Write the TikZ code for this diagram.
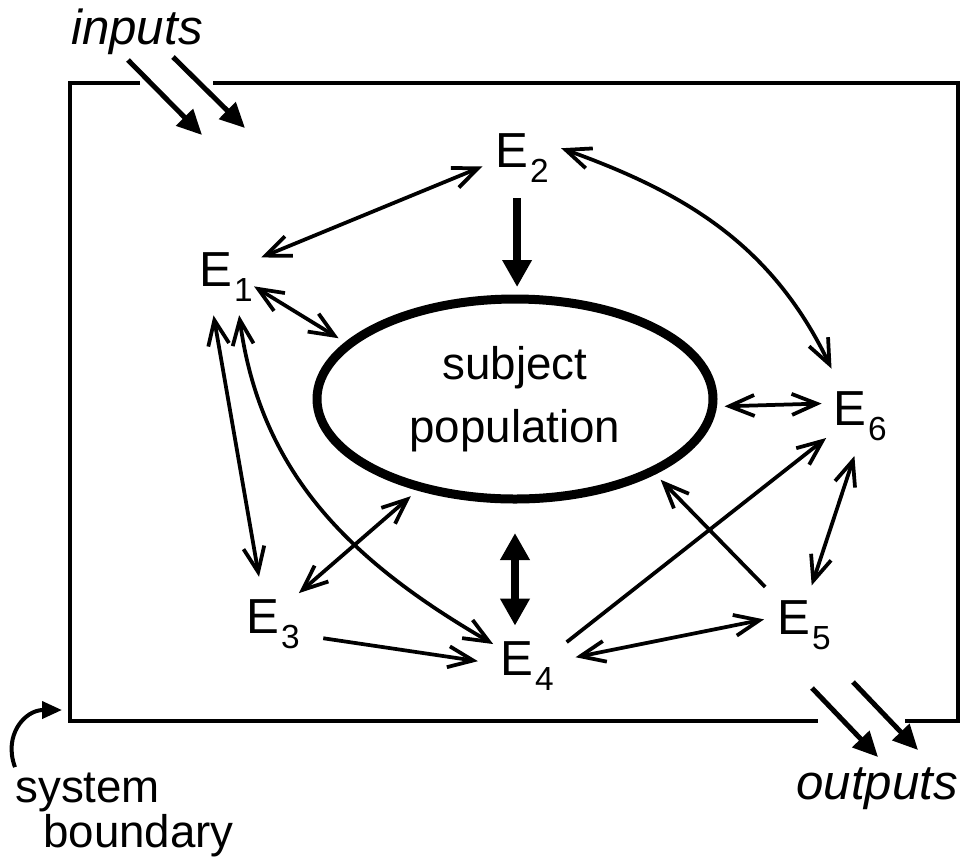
\documentclass[tikz,border=0pt]{standalone}
\usepackage{fontspec}
\setmainfont{Liberation Sans}
\usetikzlibrary{arrows.meta, shapes.geometric}

\newcommand{\ent}[1]{E\kern0.04em\raisebox{-0.3cm}{\fontsize{19}{19}\selectfont #1}}

\begin{document}
\begin{tikzpicture}[
  elab/.style={circle, minimum size=1.6cm, inner sep=0pt, font=\fontsize{28}{32}\selectfont},
  popnode/.style={ellipse, draw=black, line width=0.18cm, minimum width=7.92cm,
    minimum height=4cm, outer sep=0.24cm, align=center, font=\fontsize{26}{36}\selectfont},
  tag/.style={font=\fontsize{28}{32}\selectfont\itshape, inner sep=0pt},
  note/.style={font=\fontsize{26}{30}\selectfont, inner sep=0pt, anchor=base west},
  wall/.style={line width=0.09cm},
  arr/.style={-{Straight Barb[length=0.5cm, width=0.42cm]}, line width=0.075cm},
  darr/.style={{Straight Barb[length=0.5cm, width=0.42cm]}-{Straight Barb[length=0.5cm, width=0.42cm]},
    line width=0.075cm},
  bigarr/.style={-{Triangle[length=0.54cm, width=0.56cm]}, line width=0.17cm},
  bigdarr/.style={{Triangle[length=0.54cm, width=0.56cm]}-{Triangle[length=0.54cm, width=0.56cm]},
    line width=0.17cm},
  ioarr/.style={-{Triangle[length=0.5cm, width=0.46cm]}, line width=0.1cm}
]
  \useasboundingbox (0,0) rectangle (19.38,-17.14);

  % system boundary
  \draw[wall] (2.80,-1.66) -- (1.40,-1.66) -- (1.40,-14.42) -- (16.36,-14.42);
  \draw[wall] (4.26,-1.66) -- (19.16,-1.66) -- (19.16,-14.42) -- (18.10,-14.42);

  \node[popnode] (pop) at (10.30,-7.98) {subject\\population};

  \node[elab] (e1) at (4.52,-5.54)   {\ent{1}};
  \node[elab] (e2) at (10.44,-3.16)  {\ent{2}};
  \node[elab] (e3) at (5.46,-12.48)  {\ent{3}};
  \node[elab] (e4) at (10.54,-13.32) {\ent{4}};
  \node[elab] (e5) at (16.08,-12.50) {\ent{5}};
  \node[elab] (e6) at (17.20,-8.32)  {\ent{6}};

  \node[tag] (inp)  at (2.74,-0.64)   {inputs};
  \node[tag] (outp) at (17.54,-15.78) {outputs};
  \node[note] (sys1) at (0.30,-16.04) {system};
  \node[note] (sys2) at (0.86,-16.94) {boundary};

  \coordinate (in1s) at (2.56,-1.20);   \coordinate (in1e) at (4.04,-2.70);
  \coordinate (in2s) at (3.46,-1.14);   \coordinate (in2e) at (4.90,-2.56);
  \coordinate (out1s) at (16.24,-13.76); \coordinate (out1e) at (17.56,-15.14);
  \coordinate (out2s) at (17.06,-13.64); \coordinate (out2e) at (18.36,-15.00);
  \coordinate (bndtip) at (1.24,-14.20);

  \draw[ioarr] (in1s) -- (in1e);
  \draw[ioarr] (in2s) -- (in2e);
  \draw[ioarr] (out1s) -- (out1e);
  \draw[ioarr] (out2s) -- (out2e);
  \draw[-{Triangle[length=0.4cm, width=0.34cm]}, line width=0.08cm]
    ([yshift=0.1cm]sys1.north west) .. controls (0.06,-14.70) and (0.50,-14.20) .. (bndtip);

  % links between the environments
  \draw[darr] (e1.29) -- (e2.192);
  \draw[darr, shorten <=-0.22cm] (e1.-22) -- (pop.161);
  \draw[darr, shorten >=0.18cm] (e1.252) -- (e3.108);
  \draw[darr] (e1.289) .. controls (5.21,-9.47) and (7.02,-11.23) .. (e4.147);
  \draw[darr, shorten >=0.3cm] (e2.14) .. controls (13.72,-3.86) and (15.44,-4.90) .. (e6.123);
  \draw[bigarr] (e2.263) -- (e2.263 |- pop.north);
  \draw[darr] (e3.50) -- (pop.223);
  \draw[arr, shorten <=0.24cm, shorten >=0.18cm] (e3.-18) -- (e4.175);
  \draw[bigdarr, shorten <=0.44cm] (pop.south) -- (pop.south |- e4.north);
  \draw[arr, shorten <=0.12cm] (e4.30) -- (e6.213);
  \draw[darr, shorten <=0.18cm] (e4.10) -- (e5.172);
  \draw[arr, shorten <=0.28cm] (e5.136) -- (pop.-29);
  \draw[darr] (e5.79) -- (e6.262);
  \draw[darr] (pop.-2) -- (e6.162);
\end{tikzpicture}
\end{document}
